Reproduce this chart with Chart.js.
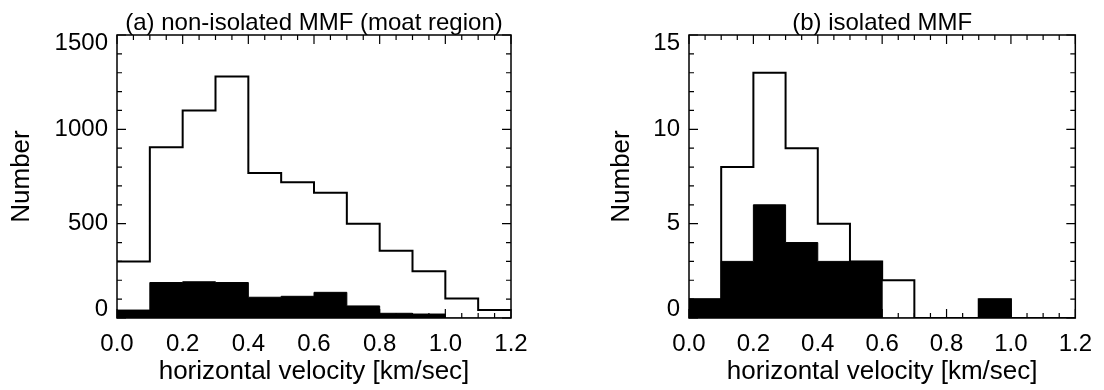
<!DOCTYPE html>
<html>
<head>
<meta charset="utf-8">
<script src="https://cdn.jsdelivr.net/npm/chart.js@4/dist/chart.umd.min.js"></script>
<style>
  html, body { margin: 0; padding: 0; background: #fff; }
  #wrap { position: relative; width: 1104px; height: 390px; }
  canvas { position: absolute; top: 0; }
</style>
</head>
<body>
<div id="wrap">
  <canvas id="left" width="552" height="390" style="left:0"></canvas>
  <canvas id="right" width="552" height="390" style="left:552px"></canvas>
</div>
<script>
// bin edges of the velocity histograms (km/sec)
const binEdges = [0.0, 0.1, 0.2, 0.3, 0.4, 0.5, 0.6, 0.7, 0.8, 0.9, 1.0, 1.1, 1.2];
const xTicks = [0.0, 0.2, 0.4, 0.6, 0.8, 1.0, 1.2];

// (a) non-isolated MMF (moat region)
const moatAll = [300, 905, 1100, 1280, 768, 720, 664, 500, 356, 248, 103, 43];
const moatFilled = [42, 188, 192, 188, 110, 115, 136, 64, 25, 21, 0, 0];
const moatYTicks = [0, 500, 1000, 1500];

// (b) isolated MMF
const isoAll = [1, 8, 13, 9, 5, 3, 2, 0, 0, 1, 0, 0];
const isoFilled = [1, 3, 6, 4, 3, 3, 0, 0, 0, 1, 0, 0];
const isoYTicks = [0, 5, 10, 15];

const FONT = "'Liberation Sans', Arial, Helvetica, sans-serif";

// turn counts per bin into step points (left edges + closing right edge)
function steps(counts) {
  const pts = counts.map((c, i) => ({ x: binEdges[i], y: c }));
  pts.push({ x: binEdges[binEdges.length - 1], y: counts[counts.length - 1] });
  return pts;
}

// box frame with inward ticks on all four sides (IDL style), plus the panel title
const framePlugin = {
  id: 'frame',
  afterDatasetsDraw(chart, args, opts) {
    const { ctx, chartArea: a, scales: { x, y } } = chart;
    ctx.save();
    ctx.strokeStyle = '#000';
    ctx.lineWidth = 1.5;
    ctx.strokeRect(a.left, a.top, a.right - a.left, a.bottom - a.top);
    ctx.lineWidth = 1.2;
    ctx.beginPath();
    for (let i = 0; i <= 24; i++) {
      const px = x.getPixelForValue(i * 0.05);
      const len = (i % 4 === 0) ? 9 : 5;
      ctx.moveTo(px, a.bottom); ctx.lineTo(px, a.bottom - len);
      ctx.moveTo(px, a.top); ctx.lineTo(px, a.top + len);
    }
    const n = Math.round(y.max / opts.minor);
    for (let i = 0; i <= n; i++) {
      const v = i * opts.minor;
      const py = y.getPixelForValue(v);
      const len = (Math.abs(v % opts.major) < 1e-9) ? 9 : 5;
      ctx.moveTo(a.left, py); ctx.lineTo(a.left + len, py);
      ctx.moveTo(a.right, py); ctx.lineTo(a.right - len, py);
    }
    ctx.stroke();

    // title centred over the plot box
    ctx.fillStyle = '#000';
    ctx.font = '24px ' + FONT;
    ctx.textAlign = 'center';
    ctx.textBaseline = 'alphabetic';
    ctx.fillText(opts.title, (a.left + a.right) / 2, a.top - 5);
    ctx.restore();
  }
};

function makeChart(id, title, all, filled, yTicks, yMinor, leftW, rightPad, yTitlePad) {
  const yMax = yTicks[yTicks.length - 1];
  return new Chart(document.getElementById(id), {
    type: 'line',
    data: {
      datasets: [
        {
          data: steps(filled),
          stepped: 'before',
          borderColor: '#000',
          borderWidth: 1,
          backgroundColor: '#000',
          fill: 'origin',
          pointRadius: 0
        },
        {
          data: steps(all),
          stepped: 'before',
          borderColor: '#000',
          borderWidth: 2,
          fill: false,
          pointRadius: 0
        }
      ]
    },
    options: {
      responsive: false,
      animation: false,
      devicePixelRatio: 1,
      layout: { padding: { left: 0, right: rightPad, top: 35, bottom: 0 } },
      plugins: {
        legend: { display: false },
        tooltip: { enabled: false },
        title: { display: false },
        frame: { minor: yMinor, major: yTicks[1], title: title }
      },
      scales: {
        x: {
          type: 'linear',
          min: 0,
          max: 1.2,
          afterBuildTicks(scale) { scale.ticks = xTicks.map(v => ({ value: v })); },
          afterFit(scale) { scale.height = 72; },
          grid: { display: false, drawTicks: false },
          border: { display: false },
          ticks: {
            color: '#000',
            padding: 12,
            maxRotation: 0,
            font: { family: FONT, size: 24 },
            callback: v => v.toFixed(1)
          },
          title: {
            display: true,
            text: 'horizontal velocity [km/sec]',
            color: '#000',
            font: { family: FONT, size: 26 },
            padding: { top: 0, bottom: 3 }
          }
        },
        y: {
          min: 0,
          max: yMax,
          afterBuildTicks(scale) { scale.ticks = yTicks.map(v => ({ value: v })); },
          afterFit(scale) { scale.width = leftW; },
          grid: { display: false, drawTicks: false },
          border: { display: false },
          ticks: {
            color: '#000',
            padding: 9,
            font: { family: FONT, size: 24, lineHeight: 0.72 },
            // end labels sit inside the box, as in the original plot
            callback: v => v === yMax ? ['', String(v)] : (v === 0 ? [String(v), ''] : String(v))
          },
          title: {
            display: true,
            text: 'Number',
            color: '#000',
            font: { family: FONT, size: 26 },
            padding: { top: yTitlePad, bottom: 0 }
          }
        }
      }
    },
    plugins: [framePlugin]
  });
}

makeChart('left', '(a) non-isolated MMF (moat region)', moatAll, moatFilled, moatYTicks, 100, 117, 41, 6);
makeChart('right', '(b) isolated MMF', isoAll, isoFilled, isoYTicks, 1, 137, 21, 54);
</script>
</body>
</html>
